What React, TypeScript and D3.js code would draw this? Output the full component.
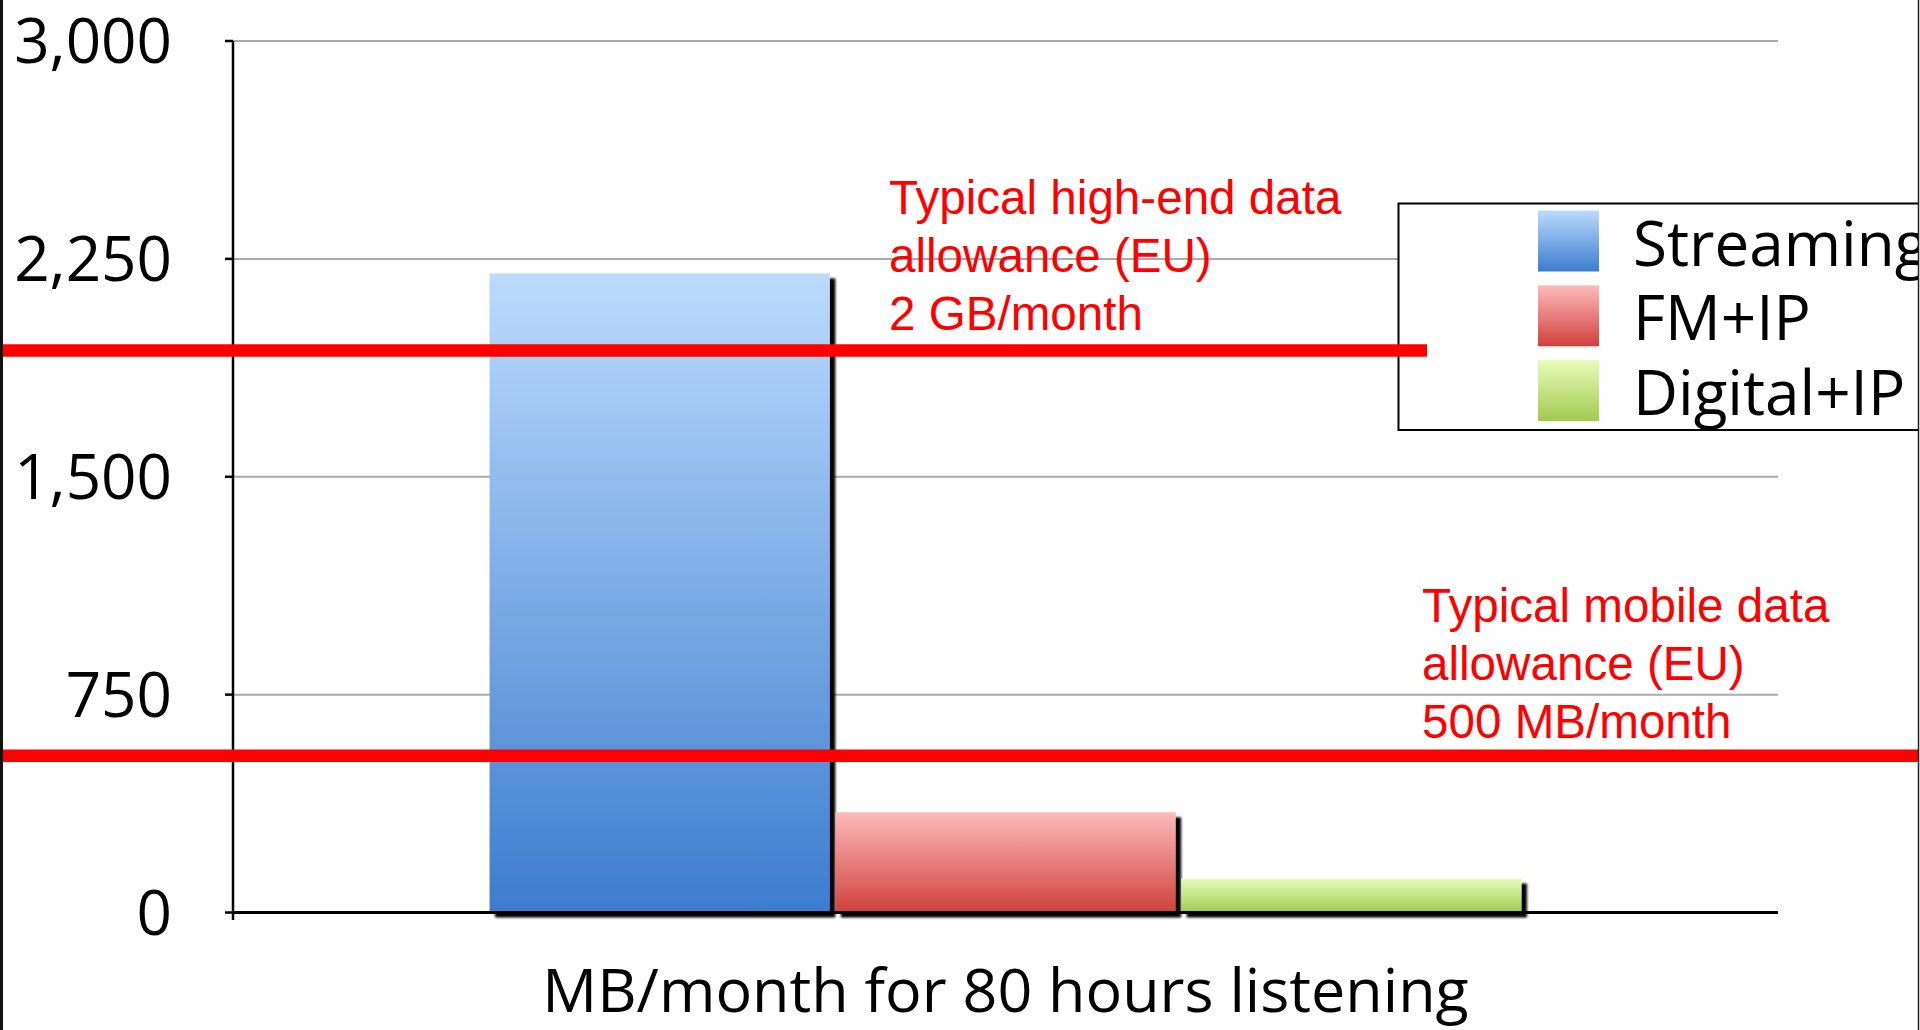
import React from "react";
import * as d3 from "d3";

// Data: monthly data volume for 80 hours of listening, in MB
const category = "MB/month for 80 hours listening";
const seriesNames = ["Streaming", "FM+IP", "Digital+IP"];
const seriesValues = [2200, 345, 117];
const yTicks = [0, 750, 1500, 2250, 3000];

// Data allowance reference levels (MB) and their captions
const allowanceLevels = [1935, 540];
const allowanceCaptions = [
  ["Typical high-end data", "allowance (EU)", "2 GB/month"],
  ["Typical mobile data", "allowance (EU)", "500 MB/month"],
];

// Gradient stops (top, bottom) per series
const seriesColors = [
  ["#BCDBFD", "#3C7CCF"],
  ["#FCBCBB", "#D1403D"],
  ["#E8FCBC", "#A1CA4F"],
];

const W = 1920;
const H = 1030;
const plot = { left: 233, right: 1778, top: 41, bottom: 912.5 };
const uiFont = "'Trebuchet MS', 'Open Sans', sans-serif";
const noteFont = "Arial, 'Liberation Sans', sans-serif";

export default function App() {
  const y = d3.scaleLinear().domain([0, 3000]).range([plot.bottom, plot.top]);
  const x0 = d3
    .scaleBand<string>()
    .domain([category])
    .range([plot.left, plot.right])
    .paddingInner(0)
    .paddingOuter(0.2486);
  const x1 = d3
    .scaleBand<string>()
    .domain(seriesNames)
    .range([0, x0.bandwidth()])
    .paddingInner(0.016);
  const fmt = d3.format(",");

  // caption placement for each allowance line: [x, first baseline]
  const captionPos = [
    [889, 214],
    [1422, 622],
  ];
  const lineExtent = [
    [0, 1427],
    [0, W],
  ];

  return (
    <svg
      width={W}
      height={H}
      viewBox={`0 0 ${W} ${H}`}
      style={{ position: "absolute", left: 0, top: 0, display: "block", background: "#fff" }}
    >
      <defs>
        {seriesColors.map((c, i) => (
          <linearGradient key={i} id={`grad${i}`} x1="0" y1="0" x2="0" y2="1">
            <stop offset="0" stopColor={c[0]} />
            <stop offset="1" stopColor={c[1]} />
          </linearGradient>
        ))}
        <filter id="barShadow" x="-10%" y="-10%" width="130%" height="130%">
          <feDropShadow dx="5.5" dy="5" stdDeviation="1.3" floodColor="#000" floodOpacity="1" />
        </filter>
        <clipPath id="pageClip">
          <rect x={0} y={0} width={1918} height={H} />
        </clipPath>
      </defs>

      <rect x={0} y={0} width={W} height={H} fill="#fff" />

      {/* gridlines */}
      {yTicks
        .filter((t) => t > 0)
        .map((t) => (
          <line
            key={`g${t}`}
            x1={plot.left}
            x2={plot.right}
            y1={y(t)}
            y2={y(t)}
            stroke="#AAAAAA"
            strokeWidth={2}
          />
        ))}

      {/* bars */}
      {seriesNames.map((s, i) => {
        const bx = (x0(category) ?? 0) + (x1(s) ?? 0);
        return (
          <rect
            key={s}
            x={bx}
            y={y(seriesValues[i])}
            width={x1.bandwidth()}
            height={y(0) - y(seriesValues[i])}
            fill={`url(#grad${i})`}
            filter="url(#barShadow)"
          />
        );
      })}

      {/* axes */}
      <line x1={plot.left} x2={plot.left} y1={plot.top} y2={920} stroke="#000" strokeWidth={2.5} />
      <line x1={plot.left} x2={plot.right} y1={y(0)} y2={y(0)} stroke="#000" strokeWidth={3} />
      {yTicks.map((t) => (
        <g key={`t${t}`}>
          <line x1={plot.left - 8} x2={plot.left} y1={y(t)} y2={y(t)} stroke="#000" strokeWidth={2.5} />
          <text
            x={172}
            y={y(t)}
            dy="0.36em"
            textAnchor="end"
            fontFamily={uiFont}
            fontSize={62}
            fill="#000"
          >
            {fmt(t)}
          </text>
        </g>
      ))}

      {/* category label */}
      <text
        x={(x0(category) ?? 0) + x0.bandwidth() / 2}
        y={1012}
        textAnchor="middle"
        fontFamily={uiFont}
        fontSize={61}
        fill="#000"
      >
        {category}
      </text>

      <g clipPath="url(#pageClip)">
        {/* legend */}
        <rect x={1398.5} y={203.5} width={600} height={226.5} fill="#fff" stroke="#000" strokeWidth={2} />
        {seriesNames.map((s, i) => (
          <g key={`l${s}`}>
            <rect x={1538} y={210.5 + i * 74.8} width={61} height={61} fill={`url(#grad${i})`} />
            <text x={1633} y={265.5 + i * 74.8} fontFamily={uiFont} fontSize={62} fill="#000">
              {s}
            </text>
          </g>
        ))}

        {/* allowance reference lines */}
        {allowanceLevels.map((v, i) => (
          <line
            key={`a${i}`}
            x1={lineExtent[i][0]}
            x2={lineExtent[i][1]}
            y1={y(v)}
            y2={y(v)}
            stroke="#FF0000"
            strokeWidth={12.5}
          />
        ))}
      </g>

      {/* allowance captions */}
      {allowanceCaptions.map((lines, i) => (
        <text
          key={`c${i}`}
          x={captionPos[i][0]}
          y={captionPos[i][1]}
          fontFamily={noteFont}
          fontSize={47.6}
          fill="#FF0000"
        >
          {lines.map((ln, j) => (
            <tspan key={j} x={captionPos[i][0]} dy={j === 0 ? 0 : 57.8}>
              {ln}
            </tspan>
          ))}
        </text>
      ))}

      {/* page frame edges */}
      <line x1={1.5} x2={1.5} y1={0} y2={H} stroke="#111" strokeWidth={3} />
      <line x1={1918.5} x2={1918.5} y1={0} y2={H} stroke="#222" strokeWidth={1.5} />
    </svg>
  );
}
